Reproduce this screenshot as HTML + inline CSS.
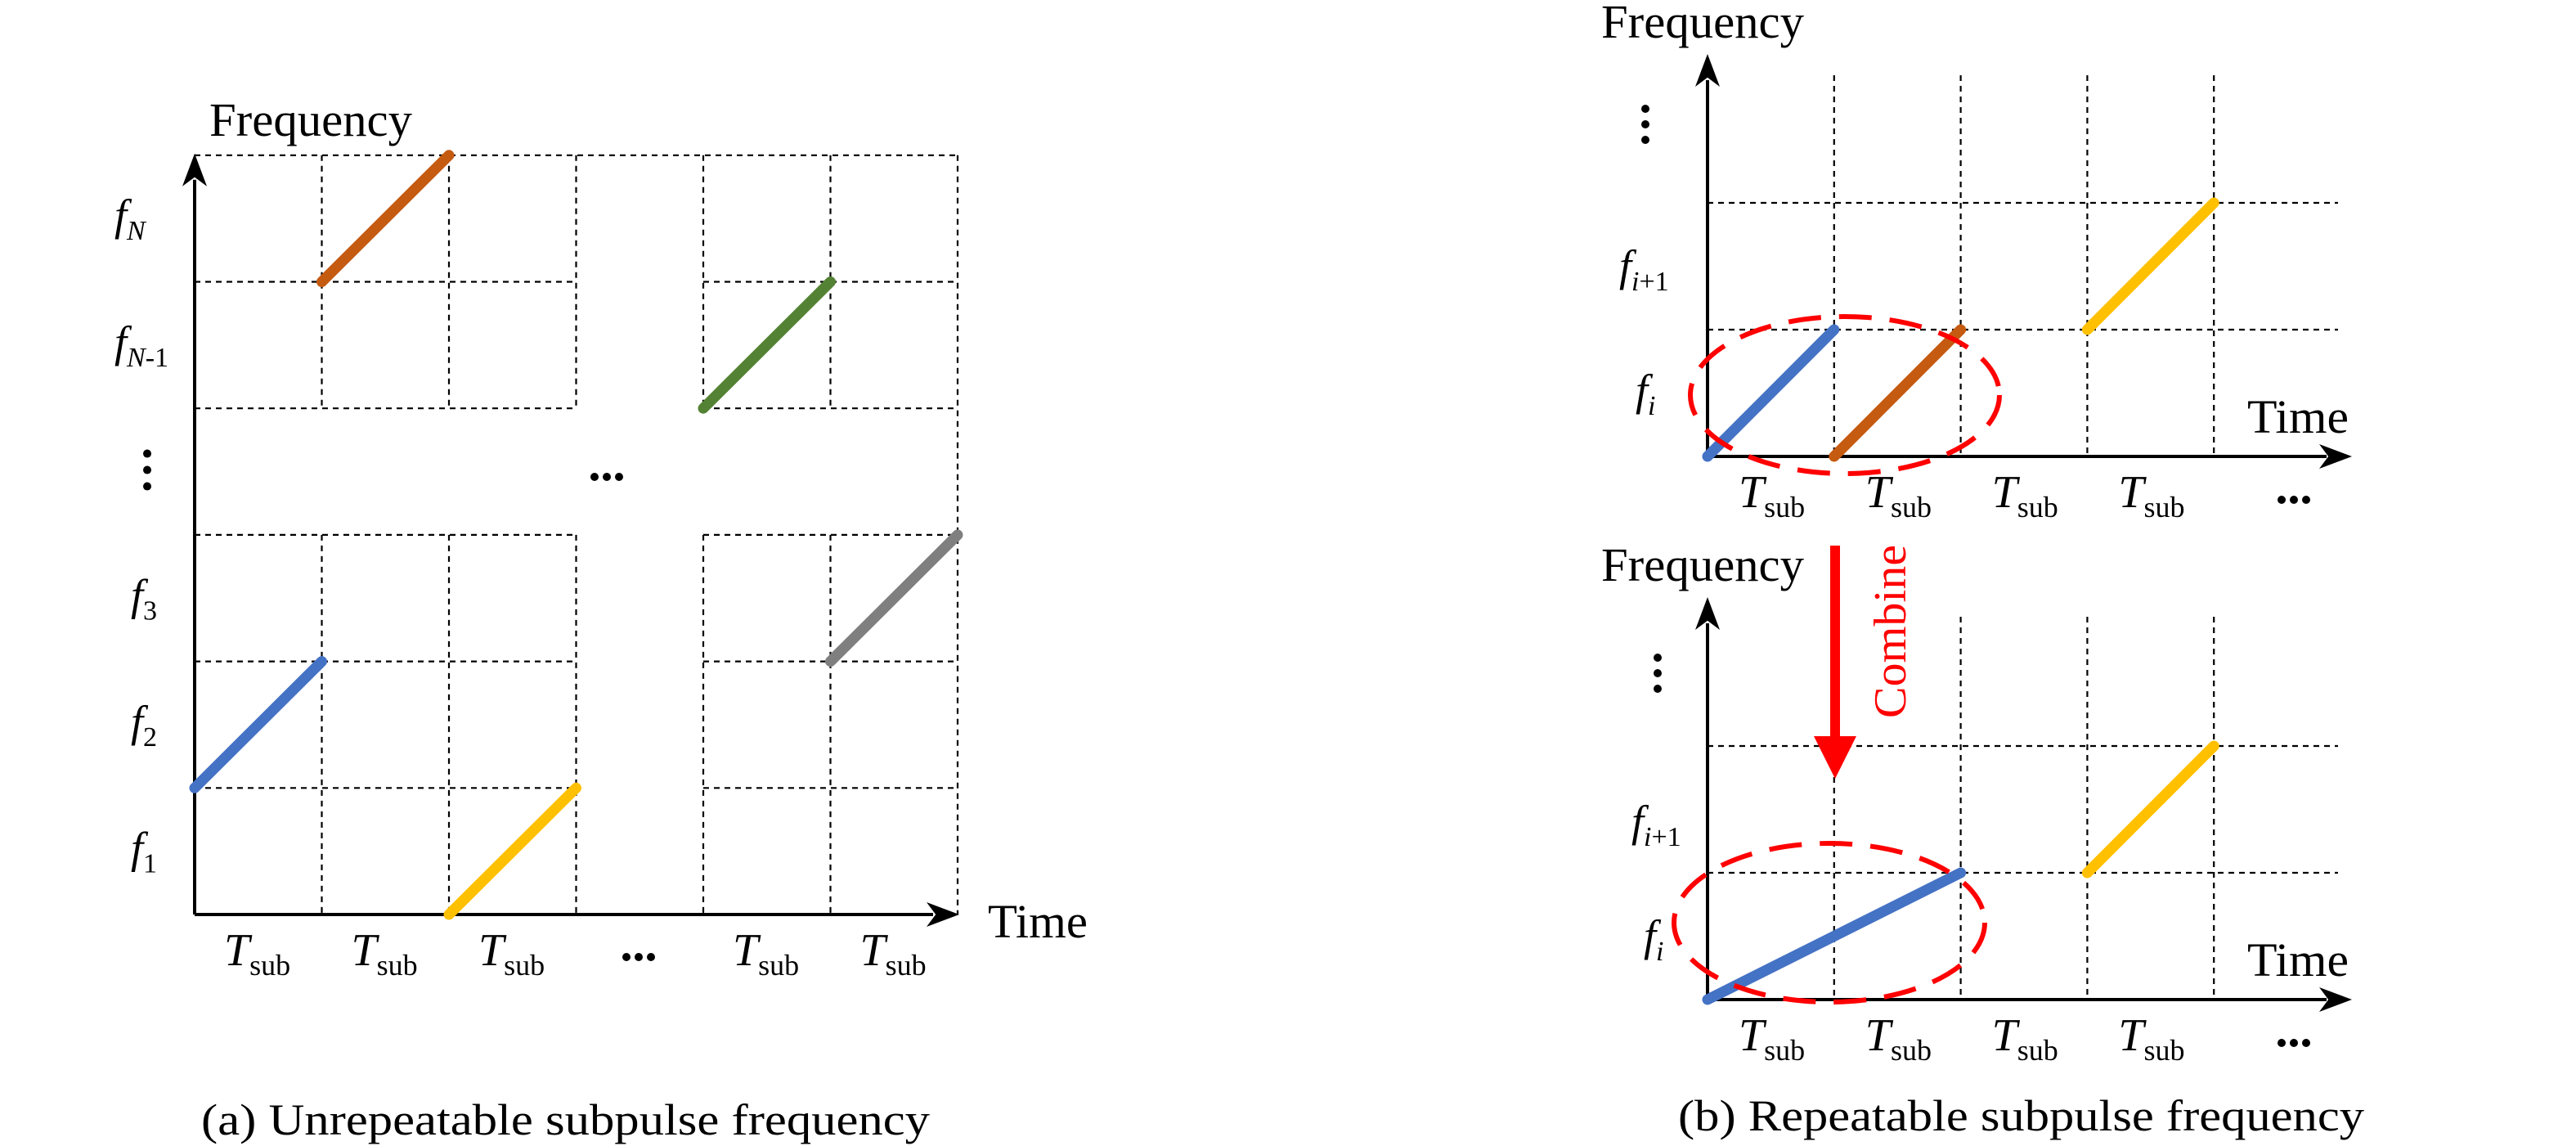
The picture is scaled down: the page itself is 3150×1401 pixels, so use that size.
<!DOCTYPE html>
<html><head><meta charset="utf-8"><style>
html,body{margin:0;padding:0;background:#fff}
svg{display:block}
text{font-family:"Liberation Serif",serif;fill:#000}
</style></head><body>
<svg id="fig" width="3150" height="1401" viewBox="0 0 3150 1401" xmlns="http://www.w3.org/2000/svg">
<g id="pa"></g>
<g id="pb"></g>
</svg>
<script>
// Panel (a): segments in grid units [col,row]
var aSegStart = [[0,1],[1,5],[2,0],[4,4],[5,2]];
var aSegEnd   = [[1,2],[2,6],[3,1],[5,5],[6,3]];
var aSegColors = ['#4472c4','#c55a11','#ffc000','#548235','#7f7f7f'];
var aSegNames = ['blue-subpulse-f2','orange-subpulse-fN','yellow-subpulse-f1','green-subpulse-fN-1','gray-subpulse-f3'];
var aRowLabels = ['f1','f2','f3','dots','fN-1','fN'];
// Panel (b)
var bTopSegStart = [[0,0],[1,0],[3,1]];
var bTopSegEnd   = [[1,1],[2,1],[4,2]];
var bTopColors = ['#4472c4','#c55a11','#ffc000'];
var bBotSegStart = [[0,0],[3,1]];
var bBotSegEnd   = [[2,1],[4,2]];
var bBotColors = ['#4472c4','#ffc000'];

var NS='http://www.w3.org/2000/svg';
function mk(parent,tag,attrs){var e=document.createElementNS(NS,tag);for(var k in attrs)e.setAttribute(k,attrs[k]);parent.appendChild(e);return e;}
function txt(parent,x,y,size,content,extra){var t=mk(parent,'text',Object.assign({x:x,y:y,'font-size':size},extra||{}));t.innerHTML=content;return t;}
function arrowHead(g,x,y,dir,len,w){var p;
 if(dir==='up')p=[x,y,x-w/2,y+len,x,y+len*0.72,x+w/2,y+len];
 else p=[x,y,x-len,y-w/2,x-len*0.72,y,x-len,y+w/2];
 return mk(g,'polygon',{points:p.join(','),fill:'#000'});}
var dash={stroke:'#000','stroke-width':2.2,'stroke-dasharray':'7,6',fill:'none'};
var TSUB='<tspan font-style="italic">T</tspan><tspan font-size="36" dy="12">sub</tspan>';

// ---------- Panel A ----------
var pa=document.getElementById('pa');
var ax0=238, ay0=1118, cw=155.5, ch=154.7;
function AX(c){return ax0+c*cw;} function AY(r){return ay0-r*ch;}
var hl,vl,t;
for(var r=1;r<=6;r++){
  if(r===6){hl=mk(pa,'line',Object.assign({x1:AX(0),y1:AY(r),x2:AX(6),y2:AY(r)},dash));
    continue;}
  hl=mk(pa,'line',Object.assign({x1:AX(0),y1:AY(r),x2:AX(3),y2:AY(r)},dash));
  
  hl=mk(pa,'line',Object.assign({x1:AX(4),y1:AY(r),x2:AX(6),y2:AY(r)},dash));
  
}
for(var c=1;c<=6;c++){
  if(c===6){vl=mk(pa,'line',Object.assign({x1:AX(c),y1:AY(6),x2:AX(c),y2:AY(0)},dash));}
  else{
    vl=mk(pa,'line',Object.assign({x1:AX(c),y1:AY(6),x2:AX(c),y2:AY(4)},dash));
    
    vl=mk(pa,'line',Object.assign({x1:AX(c),y1:AY(3),x2:AX(c),y2:AY(0)},dash));
  }
  
}
var ya=mk(pa,'line',{x1:AX(0),y1:AY(0),x2:AX(0),y2:AY(6)+30,stroke:'#000','stroke-width':4});

arrowHead(pa,AX(0),AY(6)-2,'up',40,30);
var xa=mk(pa,'line',{x1:AX(0),y1:AY(0),x2:AX(6)-30,y2:AY(0),stroke:'#000','stroke-width':4});

arrowHead(pa,AX(6)+2,AY(0),'right',40,30);
for(var i=0;i<aSegStart.length;i++){
  var s=aSegStart[i],e=aSegEnd[i];
  var ln=mk(pa,'line',{x1:AX(s[0]),y1:AY(s[1]),x2:AX(e[0]),y2:AY(e[1]),stroke:aSegColors[i],'stroke-width':13,'stroke-linecap':'round'});
  
}
t=txt(pa,256,166,58,'Frequency',{textLength:248,lengthAdjust:'spacingAndGlyphs'});
t=txt(pa,1208,1146,58,'Time',{textLength:122,lengthAdjust:'spacingAndGlyphs'});
var rowY=[0.5,1.5,2.5,3.5,4.5,5.5];
var rowTxt=['<tspan font-style="italic">f</tspan><tspan font-size="34" dy="12">1</tspan>',
 '<tspan font-style="italic">f</tspan><tspan font-size="34" dy="12">2</tspan>',
 '<tspan font-style="italic">f</tspan><tspan font-size="34" dy="12">3</tspan>',
 '',
 '<tspan font-style="italic">f</tspan><tspan font-size="34" dy="12" font-style="italic">N</tspan><tspan font-size="34">-1</tspan>',
 '<tspan font-style="italic">f</tspan><tspan font-size="34" dy="12" font-style="italic">N</tspan>'];
for(var k=0;k<rowY.length;k++){
  if(aRowLabels[k]==='dots'){
    for(var d=0;d<3;d++){mk(pa,'circle',{cx:180,cy:AY(rowY[k])-22+d*20,r:5,fill:'#000'});}
    continue;
  }
  t=txt(pa,k>=4?140:160,AY(rowY[k])+14,54,rowTxt[k]);
  
}
for(var d=0;d<3;d++){mk(pa,'circle',{cx:727+d*15,cy:583,r:5,fill:'#000'});}
var colC=[0,1,2,4,5];
for(var k=0;k<colC.length;k++){
  t=txt(pa,AX(colC[k])+36,1180,56,TSUB);
  
}
for(var d=0;d<3;d++){mk(pa,'circle',{cx:766+d*15,cy:1170,r:5,fill:'#000'});}
t=txt(pa,246,1387,54,'(a) Unrepeatable subpulse frequency',{textLength:891,lengthAdjust:'spacingAndGlyphs'});


// ---------- Panel B ----------
var pb=document.getElementById('pb');
var bx0=2088, bcw=154.8, bch=155;
function BX(c){return bx0+c*bcw;}
function drawB(y0,starts,ends,colors,top,ell,label){
  function BY(r){return y0-r*bch;}
  for(var r=1;r<=2;r++){
    var hl=mk(pb,'line',Object.assign({x1:BX(0),y1:BY(r),x2:2859,y2:BY(r)},dash));
    
  }
  for(var c=1;c<=4;c++){
    var ytop=(label==='bottom'&&c===1)?950:top;
    var vl=mk(pb,'line',Object.assign({x1:BX(c),y1:ytop,x2:BX(c),y2:y0},dash));
    
  }
  var ya=mk(pb,'line',{x1:bx0,y1:y0,x2:bx0,y2:y0-460,stroke:'#000','stroke-width':4});
  
  arrowHead(pb,bx0,y0-492,'up',40,30);
  var xa=mk(pb,'line',{x1:bx0,y1:y0,x2:2845,y2:y0,stroke:'#000','stroke-width':4});
  
  arrowHead(pb,2876,y0,'right',40,30);
  for(var i=0;i<starts.length;i++){
    var ln=mk(pb,'line',{x1:BX(starts[i][0]),y1:BY(starts[i][1]),x2:BX(ends[i][0]),y2:BY(ends[i][1]),stroke:colors[i],'stroke-width':13,'stroke-linecap':'round'});
    
  }
  var el=mk(pb,'ellipse',{cx:ell[0],cy:ell[1],rx:ell[2],ry:ell[3],fill:'none',stroke:'#ff0000','stroke-width':6,'stroke-dasharray':'40,22'});
  
  var t=txt(pb,1958,y0-512,58,'Frequency',{textLength:248,lengthAdjust:'spacingAndGlyphs'});
  t=txt(pb,2748,y0-29,58,'Time',{textLength:124,lengthAdjust:'spacingAndGlyphs'});
  var dx=label==='top'?2012:2027;
  for(var d=0;d<3;d++)mk(pb,'circle',{cx:dx,cy:y0-(label==='top'?425:418)+d*19,r:5,fill:'#000'});
  t=txt(pb,label==='top'?1980:1995,y0-(label==='top'?215:200),54,'<tspan font-style="italic">f</tspan><tspan font-size="34" dy="12" font-style="italic">i</tspan><tspan font-size="34">+1</tspan>');
  
  t=txt(pb,label==='top'?2000:2010,y0-(label==='top'?63:60),54,'<tspan font-style="italic">f</tspan><tspan font-size="34" dy="12" font-style="italic">i</tspan>');
  
  for(var c=0;c<4;c++){
    t=txt(pb,BX(c)+38,y0+62,56,TSUB);
    
  }
  for(var d=0;d<3;d++)mk(pb,'circle',{cx:2790+d*15,cy:y0+53,r:5,fill:'#000'});
}
drawB(558,bTopSegStart,bTopSegEnd,bTopColors,92,[2256,483,189,96],'top');
drawB(1222,bBotSegStart,bBotSegEnd,bBotColors,754,[2237,1128,190,97],'bottom');
var ar=mk(pb,'rect',{x:2238,y:667,width:12,height:236,fill:'#ff0000'});

mk(pb,'polygon',{points:'2218,900 2270,900 2244,952',fill:'#ff0000'});
t=txt(pb,0,0,56,'Combine',{transform:'translate(2330,878) rotate(-90)',style:'fill:#ff0000',textLength:212,lengthAdjust:'spacingAndGlyphs'});

t=txt(pb,2052,1382,54,'(b) Repeatable subpulse frequency',{textLength:839,lengthAdjust:'spacingAndGlyphs'});

</script>
</body></html>
